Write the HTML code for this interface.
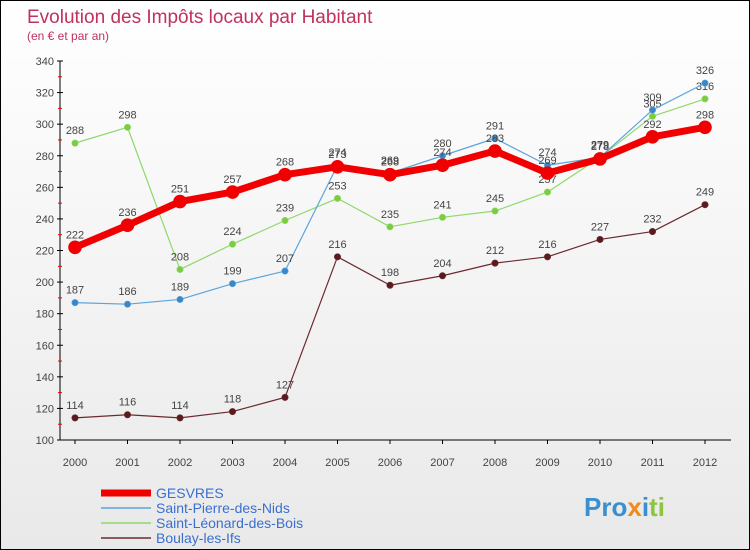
<!DOCTYPE html>
<html><head><meta charset="utf-8"><style>
body{margin:0;}
#c{position:relative;width:750px;height:550px;box-sizing:border-box;border:1px solid #000;background:linear-gradient(#fff,#e9e9e9);font-family:"Liberation Sans",sans-serif;overflow:hidden}
</style></head><body>
<div id="c">
<svg id="s" width="748" height="548" xmlns="http://www.w3.org/2000/svg">
<text x="26" y="22" font-size="19" fill="#c0315c">Evolution des Impôts locaux par Habitant</text>
<text x="26" y="39" font-size="12" fill="#c0315c">(en € et par an)</text>
<g id="axes"></g><g id="series"></g><g id="legend"></g>
<text x="583" y="515" font-size="26" font-weight="bold" fill="#3a8fd0">Pro<tspan fill="#f08a1c">x</tspan><tspan fill="#3a8fd0">i</tspan><tspan fill="#8cc63f">ti</tspan></text>
</svg>
</div>
<script>
const years=[2000,2001,2002,2003,2004,2005,2006,2007,2008,2009,2010,2011,2012];
const gesvres=[222,236,251,257,268,273,268,274,283,269,278,292,298];
const stPierre=[187,186,189,199,207,274,269,280,291,274,279,309,326];
const stLeonard=[288,298,208,224,239,253,235,241,245,257,279,305,316];
const boulay=[114,116,114,118,127,216,198,204,212,216,227,232,249];
const yTicks=[100,120,140,160,180,200,220,240,260,280,300,320,340];
const names=["GESVRES","Saint-Pierre-des-Nids","Saint-Léonard-des-Bois","Boulay-les-Ifs"];
const NS="http://www.w3.org/2000/svg";
const X=i=>74+i*52.5;
const Y=v=>439-(v-100)*(379/240);
function mk(t,a,p){const e=document.createElementNS(NS,t);for(const k in a)e.setAttribute(k,a[k]);p.appendChild(e);return e;}
const ax=document.getElementById('axes');
let e=mk('line',{x1:59,y1:Y(340),x2:59,y2:Y(100),stroke:'#000'},ax);


e=mk('line',{x1:59,y1:Y(100),x2:730,y2:Y(100),stroke:'#000'},ax);


yTicks.forEach((t,i)=>{
  mk('line',{x1:56,y1:Y(t),x2:62,y2:Y(t),stroke:'#000'},ax);
  if(i<yTicks.length-1)mk('line',{x1:57,y1:Y(t+10),x2:61,y2:Y(t+10),stroke:'#e00'},ax);
  const tx=mk('text',{x:53,y:Y(t)+4,'font-size':11,'text-anchor':'end',fill:'#444'},ax);tx.textContent=t;
  
  
});
years.forEach((y,i)=>{
  mk('line',{x1:X(i),y1:Y(100),x2:X(i),y2:Y(100)+4,stroke:'#000'},ax);
  const tx=mk('text',{x:X(i),y:465,'font-size':11,'text-anchor':'middle',fill:'#444'},ax);tx.textContent=y;
  
  
});
const sg=document.getElementById('series');
function draw(vals,color,dot,w,r,name){
  const g=mk('g',{},sg);
  
  
  mk('polyline',{points:vals.map((v,i)=>X(i)+','+Y(v)).join(' '),fill:'none',stroke:color,'stroke-width':w,'stroke-linejoin':'round'},g);
  vals.forEach((v,i)=>{
    const c=mk('circle',{cx:X(i),cy:Y(v),r:r,fill:dot,stroke:color,'stroke-width':0.6},g);
    
    
    const t=mk('text',{x:X(i),y:Y(v)-9,'font-size':11,'text-anchor':'middle',fill:'#444'},g);t.textContent=v;
  });
}
draw(boulay,'#6b2a2f','#5a1a1f',1.2,3.2,'series-boulay');
draw(stLeonard,'#8fd86a','#7ccc3f',1.2,3.2,'series-saint-leonard');
draw(stPierre,'#5aa5dd','#3a86c8',1.2,3.2,'series-saint-pierre');
draw(gesvres,'#f00000','#f00000',7,6.5,'series-gesvres');
const lg=document.getElementById('legend');
const cols=['#f00000','#5aa5dd','#8fd86a','#6b2a2f'],ws=[7,1.5,1.5,1.5];
names.forEach((n,i)=>{
  const y=492+i*15;
  mk('line',{x1:100,y1:y,x2:150,y2:y,stroke:cols[i],'stroke-width':ws[i]},lg);
  const t=mk('text',{x:155,y:y+5,'font-size':14,fill:'#3a6fd0'},lg);t.textContent=n;
  
  
});
</script>
</body></html>
